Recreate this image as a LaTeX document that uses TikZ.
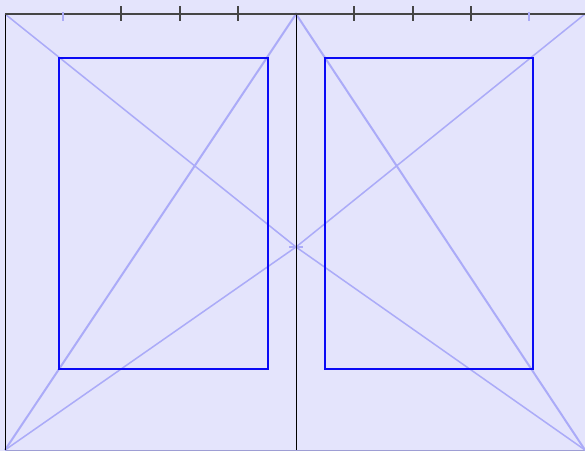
\documentclass[tikz,border=0pt]{standalone}
\definecolor{bg}{HTML}{E4E4FC}
\definecolor{guide}{HTML}{ABABF8}
\definecolor{block}{HTML}{0A0AF5}
\definecolor{rule}{HTML}{454545}
\tikzset{
  guideline/.style={draw=guide,line width=1.5pt},
  diagline/.style={draw=guide,line width=2pt},
  blockbox/.style={draw=block,line width=2.2pt},
  edgeline/.style={draw=black,line width=1pt},
  topline/.style={draw=rule,line width=1.5pt},
  tickmark/.style={draw=rule,line width=1.3pt},
  guidetick/.style={draw=guide,line width=1.6pt},
}
\begin{document}
\begin{tikzpicture}[x=1pt,y=-1pt]
\fill[bg] (0,0) rectangle (585,451);
\useasboundingbox (0,0) rectangle (585,451);
% corners
\coordinate (TL) at (5,14);
\coordinate (TM) at (296,14);
\coordinate (TR) at (585,14);
\coordinate (BL) at (5,450);
\coordinate (BM) at (296,450);
\coordinate (BR) at (585,450);
\coordinate (C) at (296,247);
% bottom edge
\draw[draw=guide!70!gray,line width=1pt] (BL) -- (BR);
% guides
\draw[guideline] (TL) -- (C) -- (BR);
\draw[guideline] (BL) -- (C) -- (TR);
\draw[diagline] (BL) -- (TM) -- (BR);
\draw[guidetick] (289,247) -- (303,247);
% page edges
\draw[edgeline] (TL) -- (BL);
\draw[edgeline] (TM) -- (BM);
\draw[topline] (TL) -- (TR);
% ticks
\foreach \x in {121,180,238,354,413,471}
  \draw[tickmark] (\x,6) -- (\x,21);
\foreach \x in {63,529}
  \draw[guidetick] (\x,12) -- (\x,21);
% text blocks
\draw[blockbox] (59,58) rectangle (268,369);
\draw[blockbox] (325,58) rectangle (533,369);
\end{tikzpicture}
\end{document}
